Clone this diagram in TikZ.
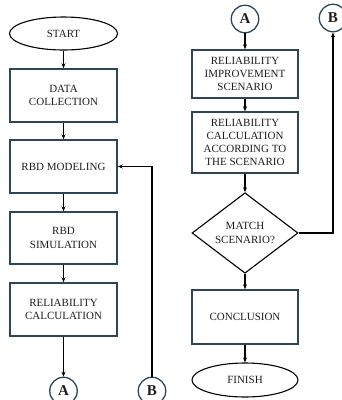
\documentclass[tikz,border=0pt]{standalone}
\usepackage{fontspec}
\setmainfont{Liberation Serif}
\usetikzlibrary{shapes.geometric,arrows.meta}
\definecolor{boxline}{RGB}{45,70,85}
\definecolor{ink}{RGB}{30,30,30}
\begin{document}
\begin{tikzpicture}[x=1pt,y=-1pt,
  every node/.style={font=\fontsize{11}{13.2}\selectfont, text=ink, align=center, inner sep=0pt},
  procbox/.style={draw=boxline, line width=1.4pt, fill=white, minimum width=107pt},
  terminal/.style={draw=black, ellipse, line width=1.1pt, minimum width=108pt, minimum height=33pt},
  connector/.style={circle, draw=boxline, line width=1.3pt, minimum size=27.5pt, font=\fontsize{15}{15}\selectfont\bfseries},
  decision/.style={diamond, draw=black, line width=1.1pt, minimum width=106pt, minimum height=79pt},
  flow/.style={draw=black, line width=1.1pt, -{Stealth[length=5pt,width=4pt]}},
]
\useasboundingbox (0,0) rectangle (341,400);

% left column
\node[terminal] (start) at (63.5,33.5) {START};
\node[procbox, minimum height=53pt] (data) at (63.5,95.5) {DATA\\COLLECTION};
\node[procbox, minimum height=53pt] (rbdm) at (63.5,166.5) {RBD MODELING};
\node[procbox, minimum height=52pt] (rbds) at (63.5,238) {RBD\\SIMULATION};
\node[procbox, minimum height=53pt] (calc) at (63.5,309.5) {RELIABILITY\\CALCULATION};
\node[connector] (a1) at (63.5,391) {A};
\node[connector] (b1) at (152,391) {B};

% right column
\node[connector] (a2) at (245,19) {A};
\node[connector] (b2) at (333,18) {B};
\node[procbox, minimum width=106pt, minimum height=48pt] (impr) at (245,74) {RELIABILITY\\IMPROVEMENT\\SCENARIO};
\node[procbox, minimum width=106pt, minimum height=61pt] (scen) at (245,142.5) {RELIABILITY\\CALCULATION\\ACCORDING TO\\THE SCENARIO};
\node[decision] (match) at (245,233) {MATCH\\SCENARIO?};
\node[procbox, minimum width=106pt, minimum height=54pt] (concl) at (245,317) {CONCLUSION};
\node[terminal, minimum width=106pt, minimum height=34pt] (finish) at (245,380) {FINISH};

% flow
\draw[flow] (start) -- (data);
\draw[flow] (data) -- (rbdm);
\draw[flow] (rbdm) -- (rbds);
\draw[flow] (rbds) -- (calc);
\draw[flow] (calc) -- (a1);
\draw[flow] (b1.north) |- (rbdm.east);

\draw[flow] (a2) -- (impr);
\draw[flow] (impr) -- (scen);
\draw[flow] (scen) -- (match);
\draw[flow] (match) -- (concl);
\draw[flow] (concl) -- (finish);
\draw[flow] (match.east) -| (b2.south);
\end{tikzpicture}
\end{document}
